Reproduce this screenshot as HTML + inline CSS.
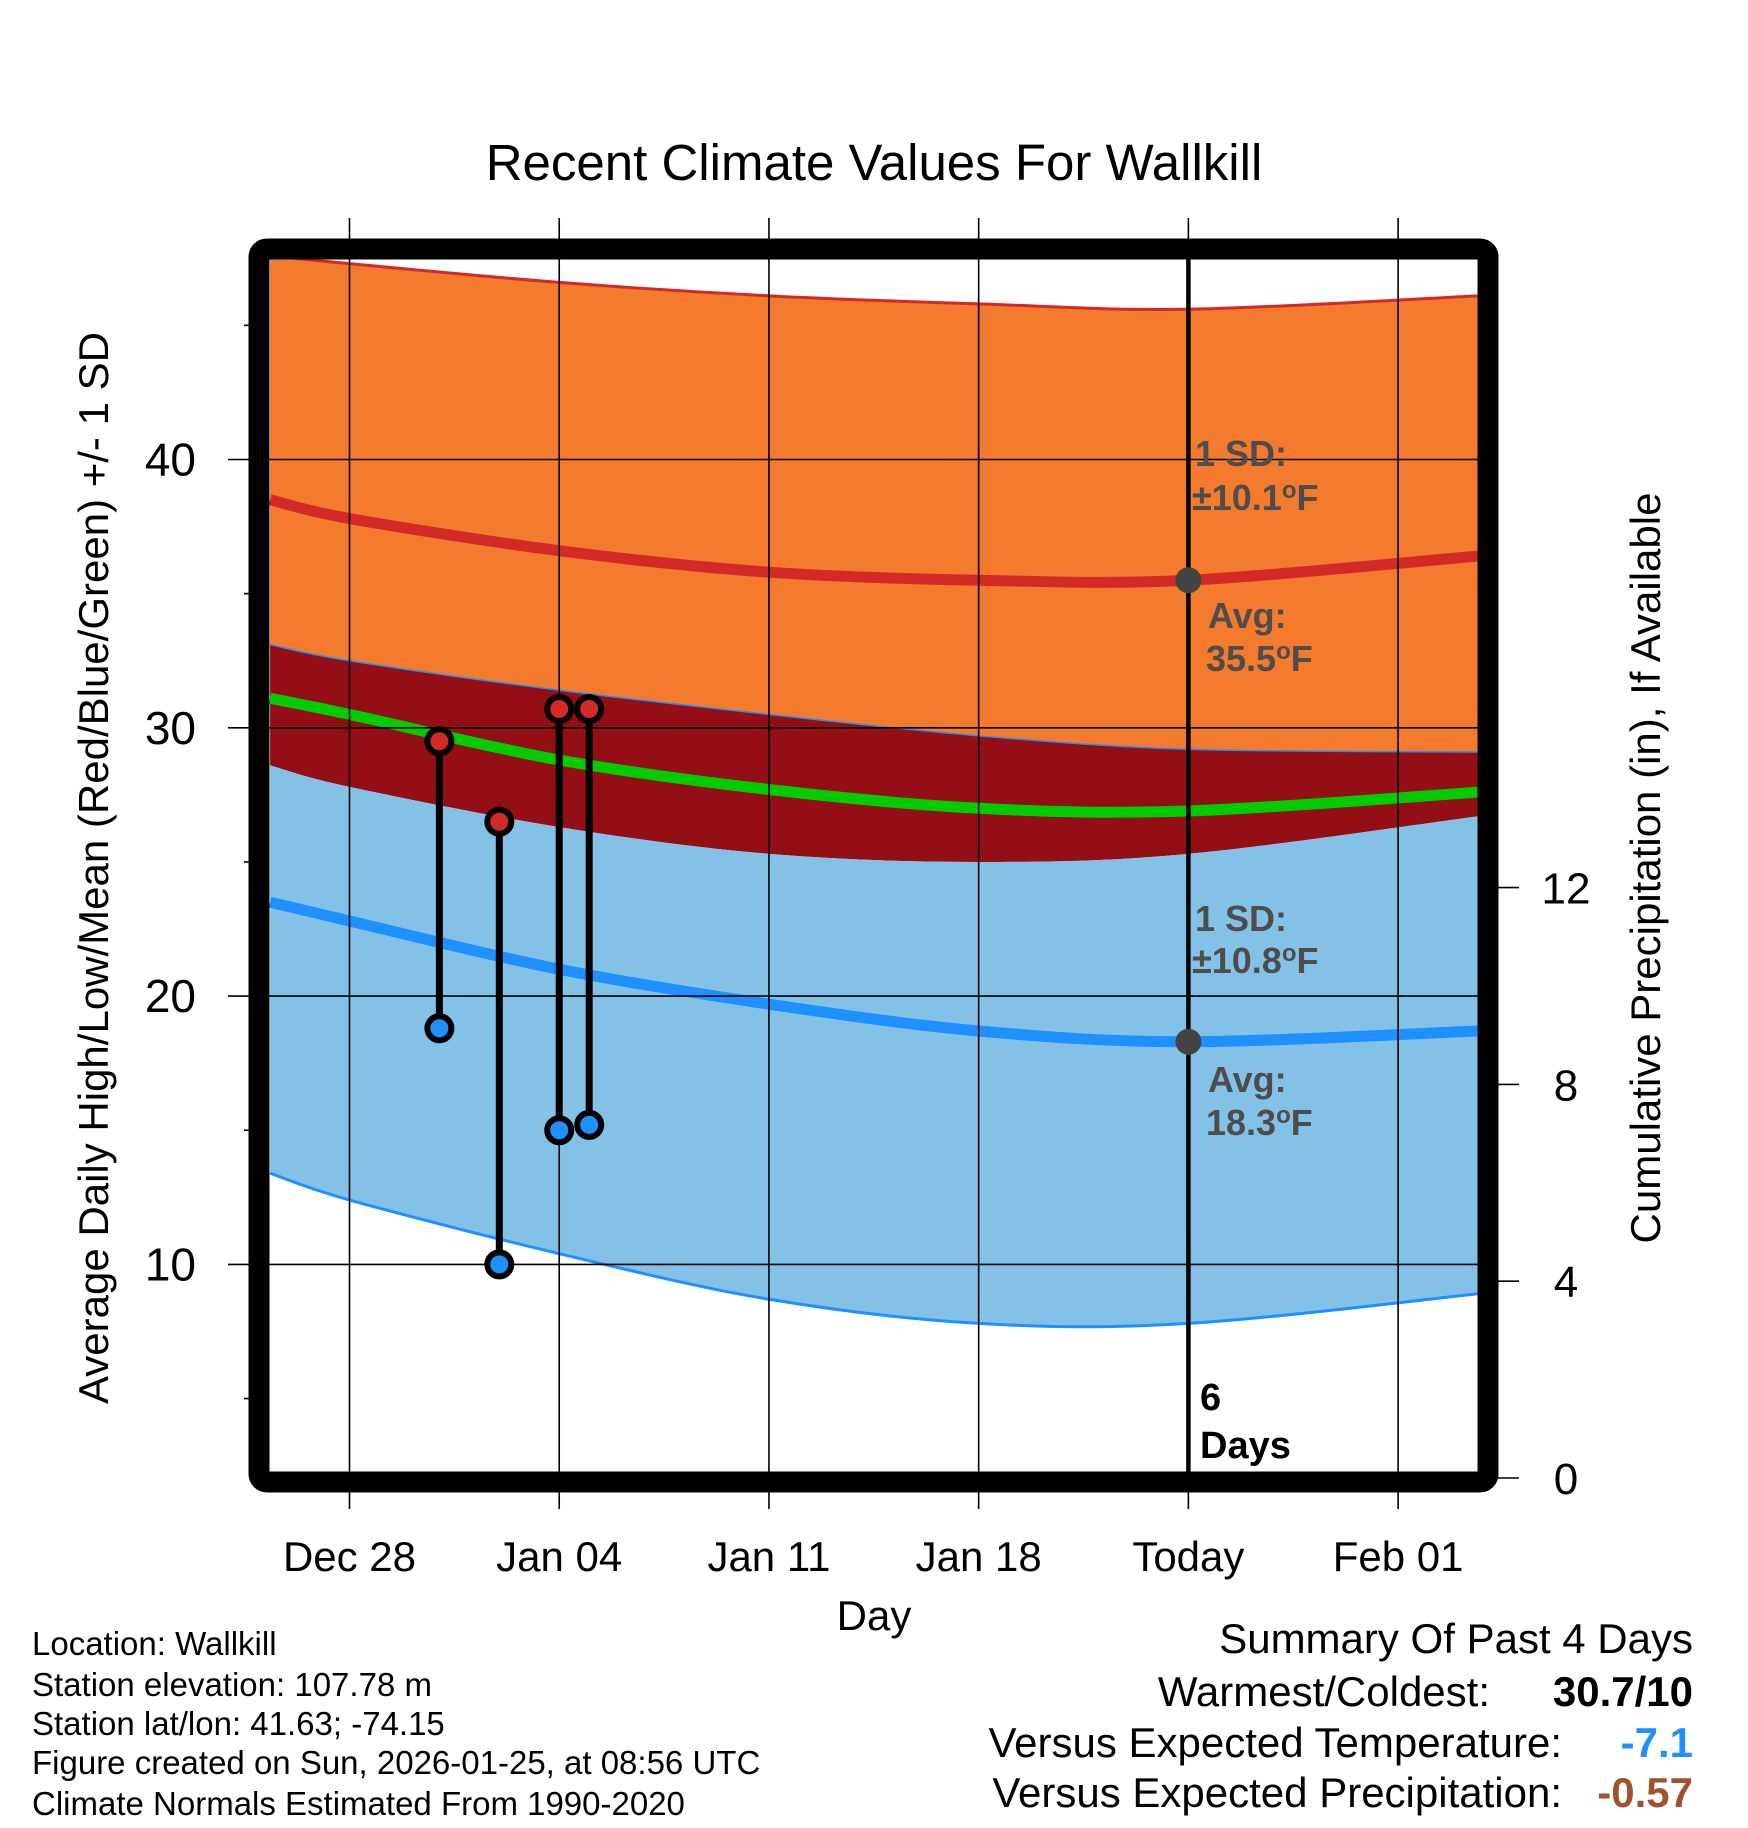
<!DOCTYPE html>
<html><head><meta charset="utf-8"><style>
html,body{margin:0;padding:0;background:#fff}
svg{display:block;font-family:"Liberation Sans",Arial,sans-serif}
</style></head><body>
<svg id="chart" width="1748" height="1828" viewBox="0 0 1748 1828" xmlns="http://www.w3.org/2000/svg">
<defs><clipPath id="pc"><rect x="259" y="249" width="1229" height="1233"/></clipPath></defs>
<rect width="1748" height="1828" fill="#fff"/>
<text x="874" y="180" font-size="51" text-anchor="middle">Recent Climate Values For Wallkill</text>
<g id="plot" clip-path="url(#pc)"></g>
<g id="over"></g>
</svg>
<script>
// ---- data ----
const curveDays = [-2.65, 0, 7, 14, 21, 28, 37.65];
const highPlusSD = [47.6, 47.3, 46.6, 46.1, 45.8, 45.6, 46.1];
const highAvg    = [38.5, 37.8, 36.6, 35.8, 35.5, 35.5, 36.4];
const highMinusSD= [33.1, 32.5, 31.4, 30.5, 29.7, 29.2, 29.1];
const meanAvg    = [31.1, 30.5, 28.8, 27.7, 27.0, 26.9, 27.6];
const lowPlusSD  = [28.6, 27.8, 26.3, 25.3, 25.0, 25.3, 26.7];
const lowAvg     = [23.5, 22.8, 21.0, 19.7, 18.7, 18.3, 18.7];
const lowMinusSD = [13.4, 12.4, 10.4, 8.7, 7.8, 7.8, 8.9];
const obsDays = [3, 5, 7, 8];
const obsHigh = [29.5, 26.5, 30.7, 30.7];
const obsLow  = [18.8, 10.0, 15.0, 15.2];
const xTickDays = [0, 7, 14, 21, 28, 35];
const xTickLabels = ["Dec 28", "Jan 04", "Jan 11", "Jan 18", "Today", "Feb 01"];
const yTicks = [10, 20, 30, 40];
const yMinor = [5, 15, 25, 35, 45];
const rTicks = [0, 4, 8, 12];
const todayDay = 28;
const todayHigh = 35.5, todayLow = 18.3;

// ---- axes ----
const X = d => 349.5 + d * 29.96;
const Y = v => 459.5 + (40 - v) * 26.83;
const R = p => 1478 - p * 49.2;

const NS = "http://www.w3.org/2000/svg";
const plot = document.getElementById('plot');
const over = document.getElementById('over');
function mk(tag, attrs, parent, text) {
  const e = document.createElementNS(NS, tag);
  for (const k in attrs) e.setAttribute(k, attrs[k]);
  if (text !== undefined) e.textContent = text;
  parent.appendChild(e);
  return e;
}
function pts(vals) { return curveDays.map((d, i) => [X(d), Y(vals[i])]); }
function cr(p) {
  let s = "M" + p[0][0] + "," + p[0][1];
  for (let i = 0; i < p.length - 1; i++) {
    const p0 = p[Math.max(0, i - 1)], p1 = p[i], p2 = p[i + 1], p3 = p[Math.min(p.length - 1, i + 2)];
    const c1 = [p1[0] + (p2[0] - p0[0]) / 6, p1[1] + (p2[1] - p0[1]) / 6];
    const c2 = [p2[0] - (p3[0] - p1[0]) / 6, p2[1] - (p3[1] - p1[1]) / 6];
    s += " C" + c1 + " " + c2 + " " + p2;
  }
  return s;
}
function crRev(p) { return cr(p.slice().reverse()).replace(/^M/, "L"); }
function band(top, bot, color, name) {
  const e = mk('path', {d: cr(pts(top)) + " " + crRev(pts(bot)) + " Z", fill: color}, plot);
  
  
}
band(highPlusSD, highMinusSD, '#f47a2e', 'high-sd-band');
band(highMinusSD, lowPlusSD, '#930e15', 'overlap-band');
band(lowPlusSD, lowMinusSD, '#83c1e7', 'low-sd-band');
function line(vals, color, w, name) {
  const e = mk('path', {d: cr(pts(vals)), fill: 'none', stroke: color, 'stroke-width': w}, plot);
  
  
}
line(highPlusSD, '#d42a27', 3, 'high-plus-sd-line');
line(highMinusSD, '#1e90ff', 1.5, 'high-minus-sd-line');
line(lowMinusSD, '#1e90ff', 3, 'low-minus-sd-line');
line(highAvg, '#d42a27', 11, 'high-average-line');
line(lowAvg, '#1e90ff', 11, 'low-average-line');
line(meanAvg, '#00cc00', 11, 'mean-average-line');

// grid
xTickDays.forEach((d, i) => {
  const g = mk('line', {x1: X(d), x2: X(d), y1: 218, y2: 1509, stroke: '#000', 'stroke-width': 1.6}, over);
  
  
  const t = mk('text', {x: X(d), y: 1571, 'font-size': 42, 'text-anchor': 'middle'}, over, xTickLabels[i]);
  
  
});
yTicks.forEach(v => {
  const g = mk('line', {x1: 228, x2: 1478, y1: Y(v), y2: Y(v), stroke: '#000', 'stroke-width': 1.6}, over);
  
  
  const t = mk('text', {x: 196, y: Y(v) + 16, 'font-size': 46, 'text-anchor': 'end'}, over, String(v));
  
  
});
yMinor.forEach(v => {
  const g = mk('line', {x1: 244, x2: 260, y1: Y(v), y2: Y(v), stroke: '#000', 'stroke-width': 1.6}, over);
  
  
});
rTicks.forEach(p => {
  const g = mk('line', {x1: 1488, x2: 1519, y1: R(p), y2: R(p), stroke: '#000', 'stroke-width': 1.6}, over);
  
  
  const t = mk('text', {x: 1566, y: R(p) + 16, 'font-size': 44, 'text-anchor': 'middle'}, over, String(p));
  
  
});

// today line
const tl = mk('line', {x1: X(todayDay), x2: X(todayDay), y1: 255, y2: 1480, stroke: '#000', 'stroke-width': 4.5}, over);


[todayHigh, todayLow].forEach(v => {
  const c = mk('circle', {cx: X(todayDay), cy: Y(v), r: 13, fill: '#444'}, over);
  
  
});

// observations
obsDays.forEach((d, i) => {
  const l = mk('line', {x1: X(d), x2: X(d), y1: Y(obsHigh[i]), y2: Y(obsLow[i]), stroke: '#000', 'stroke-width': 7}, over);
  
  
  const h = mk('circle', {cx: X(d), cy: Y(obsHigh[i]), r: 12, fill: '#d42a27', stroke: '#000', 'stroke-width': 6}, over);
  
  
  const lo = mk('circle', {cx: X(d), cy: Y(obsLow[i]), r: 12, fill: '#1e90ff', stroke: '#000', 'stroke-width': 6}, over);
  
  
});
</script>
<svg style="position:absolute;left:0;top:0" width="1748" height="1828" viewBox="0 0 1748 1828" xmlns="http://www.w3.org/2000/svg" font-family="Liberation Sans, Arial, sans-serif">
<rect x="259" y="249" width="1229" height="1233" rx="8" fill="none" stroke="#000" stroke-width="21"/>
<g font-weight="bold" font-size="36" fill="#4d4d4d">
<text x="1195" y="466">1 SD:</text>
<text x="1192" y="510">±10.1<tspan font-size="24" dy="-12">o</tspan><tspan dy="12">F</tspan></text>
<text x="1208" y="628">Avg:</text>
<text x="1206" y="671">35.5<tspan font-size="24" dy="-12">o</tspan><tspan dy="12">F</tspan></text>
<text x="1195" y="931">1 SD:</text>
<text x="1192" y="973">±10.8<tspan font-size="24" dy="-12">o</tspan><tspan dy="12">F</tspan></text>
<text x="1208" y="1092">Avg:</text>
<text x="1206" y="1135">18.3<tspan font-size="24" dy="-12">o</tspan><tspan dy="12">F</tspan></text>
<text x="1200" y="1410" fill="#000" font-size="38">6</text>
<text x="1200" y="1458" fill="#000" font-size="38">Days</text>
</g>
<text x="874" y="1630" font-size="42" text-anchor="middle">Day</text>
<text transform="translate(108,868) rotate(-90)" font-size="42" text-anchor="middle">Average Daily High/Low/Mean (Red/Blue/Green) +/- 1 SD</text>
<text transform="translate(1660,868) rotate(-90)" font-size="42" text-anchor="middle">Cumulative Precipitation (in), If Available</text>
<g font-size="33">
<text x="32" y="1655">Location: Wallkill</text>
<text x="32" y="1696">Station elevation: 107.78 m</text>
<text x="32" y="1735">Station lat/lon: 41.63; -74.15</text>
<text x="32" y="1774">Figure created on Sun, 2026-01-25, at 08:56 UTC</text>
<text x="32" y="1815">Climate Normals Estimated From 1990-2020</text>
</g>
<g font-size="42">
<text x="1693" y="1653" text-anchor="end">Summary Of Past 4 Days</text>
<text x="1490" y="1706" text-anchor="end">Warmest/Coldest:</text>
<text x="1693" y="1706" text-anchor="end" font-weight="bold">30.7/10</text>
<text x="1562" y="1757" text-anchor="end">Versus Expected Temperature:</text>
<text x="1693" y="1757" text-anchor="end" font-weight="bold" fill="#1e90ff">-7.1</text>
<text x="1562" y="1807" text-anchor="end">Versus Expected Precipitation:</text>
<text x="1693" y="1807" text-anchor="end" font-weight="bold" fill="#a0522d">-0.57</text>
</g>
</svg>
</body></html>
